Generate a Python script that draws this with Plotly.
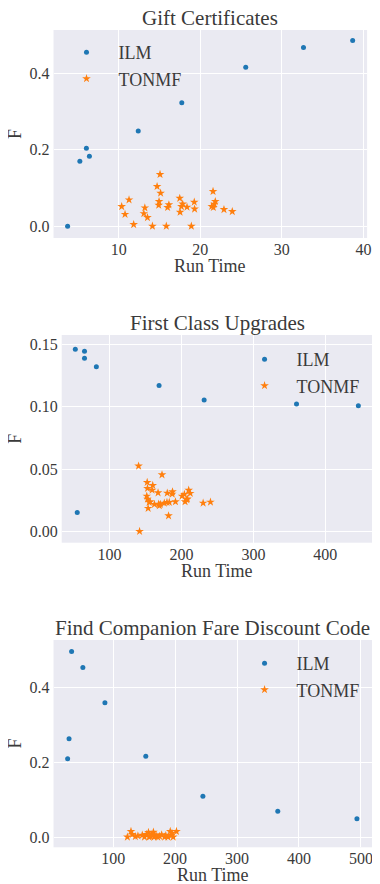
import plotly.graph_objects as go

# page body has an 8px margin; figure is sized to fit the 380x884 window
OFF = 8
W, H = 380 - OFF, 884 - OFF

# ---------------- data ----------------
gift_ilm_x = [3.73, 5.23, 6.03, 6.40, 12.39, 17.73, 25.57, 32.65, 38.68]
gift_ilm_y = [0.0, 0.170, 0.204, 0.183, 0.249, 0.323, 0.416, 0.468, 0.486]
gift_ton_x = [10.36, 10.77, 11.26, 11.83, 13.08, 13.2, 13.52, 14.13, 14.7, 14.9, 14.94, 15.06,
              15.13, 15.83, 15.99, 16.15, 17.48, 17.52, 17.68, 17.84, 18.37, 18.9, 19.26, 19.3,
              21.4, 21.56, 21.6, 21.72, 21.84, 22.9, 23.92]
gift_ton_y = [0.0516, 0.031, 0.069, 0.0044, 0.033, 0.048, 0.0227, 0.0, 0.104, 0.055, 0.0647, 0.1355,
              0.0865, 0.0, 0.049, 0.056, 0.073, 0.0367, 0.0516, 0.058, 0.0498, 0.0, 0.063, 0.045,
              0.052, 0.091, 0.049, 0.0577, 0.0647, 0.0437, 0.0385]

fcu_ilm_x = [52.3, 65.1, 65.1, 81.6, 55.0, 168.8, 231.5, 360.0, 446.0]
fcu_ilm_y = [0.146, 0.1445, 0.1388, 0.132, 0.0152, 0.1169, 0.1054, 0.1022, 0.1008]
fcu_ton_x = [140.3, 172.9, 152.3, 160.0, 152.7, 159.1, 167.4, 180.2, 187.5, 187.1, 151.7, 152.7,
             156.4, 153.6, 162.3, 169.2, 170.6, 176.1, 179.8, 183.0, 191.6, 182.0, 200.8, 204.0,
             210.0, 212.2, 205.0, 207.3, 230.1, 240.3, 141.7, 155.0, 168.2, 208.2]
fcu_ton_y = [0.0524, 0.0454, 0.0393, 0.0369, 0.0345, 0.0331, 0.0310, 0.0307, 0.0318, 0.0299, 0.0283, 0.0259,
             0.0238, 0.0185, 0.0217, 0.0206, 0.0217, 0.0227, 0.0233, 0.0233, 0.0238, 0.0125, 0.0283, 0.0297,
             0.0331, 0.0305, 0.0238, 0.0254, 0.0227, 0.0235, 0.0, 0.0233, 0.0219, 0.026]

fcf_ilm_x = [32.9, 51.1, 86.7, 28.8, 26.5, 152.7, 244.9, 365.8, 493.6]
fcf_ilm_y = [0.4975, 0.4545, 0.3598, 0.2634, 0.2098, 0.2161, 0.109, 0.0688, 0.049]
fcf_ton_x = [123.0, 128.8, 131.0, 135.8, 147.0, 150.6, 153.8, 157.0, 158.1, 162.3, 165.0, 166.1,
             169.3, 171.9, 178.3, 183.1, 188.5, 192.2, 193.8, 197.0, 202.2, 140.0, 160.0, 175.0,
             185.0, 195.0]
fcf_ton_y = [0.0, 0.015, 0.007, 0.001, 0.005, 0.0, 0.007, 0.0125, 0.0, 0.006, 0.013, 0.0,
             0.004, 0.0, 0.006, 0.0, 0.0, 0.015, 0.004, 0.0, 0.015, 0.003, 0.002, 0.002,
             0.004, 0.01]

titles = ["Gift Certificates", "First Class Upgrades", "Find Companion Fare Discount Code"]
series_names = ["ILM", "TONMF"]

# ---------------- style ----------------
BLUE = "#1f77b4"
ORANGE = "#ff7f0e"
BG = "#EAEAF2"
TXT = "#3a3a3a"
FONT = "Liberation Serif"


def px_x(p):
    return (p - OFF) / W


def px_y(p):
    return 1 - (p - OFF) / H


# plot-area pixel boxes in window coordinates (left, top, right, bottom)
boxes = [(54, 30, 371, 238), (62.3, 335, 376.7, 542.7), (54, 640, 376, 847.3)]
xranges = [[2.0, 40.45], [33.4, 466], [3.7, 518]]
yranges = [[-0.031, 0.5135], [-0.0091, 0.1575], [-0.0276, 0.528]]
xticks = [[10, 20, 30, 40], [100, 200, 300, 400], [100, 200, 300, 400, 500]]
yticks = [[0, 0.2, 0.4], [0, 0.05, 0.10, 0.15], [0, 0.2, 0.4]]
yfmt = [".1f", ".2f", ".1f"]
legend_pos = [(55, 34), (235, 341), (235, 645)]

data = [
    (gift_ilm_x, gift_ilm_y, gift_ton_x, gift_ton_y),
    (fcu_ilm_x, fcu_ilm_y, fcu_ton_x, fcu_ton_y),
    (fcf_ilm_x, fcf_ilm_y, fcf_ton_x, fcf_ton_y),
]

fig = go.Figure()
layout = dict(
    width=W, height=H,
    margin=dict(l=0, r=0, t=0, b=0),
    paper_bgcolor="white",
    plot_bgcolor=BG,
    font=dict(family=FONT, color=TXT, size=16),
    annotations=[],
)

for i, (ix, iy, tx, ty) in enumerate(data):
    n = "" if i == 0 else str(i + 1)
    lg = "legend" if i == 0 else f"legend{i + 1}"
    fig.add_trace(go.Scatter(x=ix, y=iy, mode="markers", name=series_names[0],
                             marker=dict(color=BLUE, size=5, symbol="circle"),
                             xaxis="x" + n, yaxis="y" + n, legend=lg))
    fig.add_trace(go.Scatter(x=tx, y=ty, mode="markers", name=series_names[1],
                             marker=dict(color=ORANGE, size=6.5, symbol="star"),
                             xaxis="x" + n, yaxis="y" + n, legend=lg))
    l, t, r, b = boxes[i]
    layout["xaxis" + n] = dict(
        domain=[px_x(l), px_x(r)], range=xranges[i], anchor="y" + n,
        tickvals=xticks[i], showgrid=True, gridcolor="white", gridwidth=1.2,
        zeroline=False, showline=False, ticks="", ticklabelstandoff=0,
        tickfont=dict(size=16, family=FONT, color=TXT),
    )
    layout["yaxis" + n] = dict(
        domain=[px_y(b), px_y(t)], range=yranges[i], anchor="x" + n,
        tickvals=yticks[i], tickformat=yfmt[i], showgrid=True, gridcolor="white",
        gridwidth=1.2, zeroline=False, showline=False, ticks="", ticklabelstandoff=3,
        tickfont=dict(size=16, family=FONT, color=TXT),
    )
    lx, ly = legend_pos[i]
    layout[lg] = dict(
        x=px_x(lx), y=px_y(ly), xanchor="left", yanchor="top",
        bgcolor="rgba(0,0,0,0)", borderwidth=0, itemwidth=54,
        font=dict(size=18, family=FONT, color=TXT), tracegroupgap=0,
    )
    # title
    layout["annotations"].append(dict(
        text=titles[i], x=px_x((l + r) / 2), y=px_y(t - 12), xref="paper", yref="paper",
        xanchor="center", yanchor="middle", showarrow=False,
        font=dict(size=21, family=FONT, color=TXT)))
    # x label
    layout["annotations"].append(dict(
        text="Run Time", x=px_x((l + r) / 2), y=px_y(b + 28), xref="paper", yref="paper",
        xanchor="center", yanchor="middle", showarrow=False,
        font=dict(size=18, family=FONT, color=TXT)))
    # y label
    layout["annotations"].append(dict(
        text="F", x=px_x(15), y=px_y((t + b) / 2), xref="paper", yref="paper",
        xanchor="center", yanchor="middle", showarrow=False, textangle=-90,
        font=dict(size=18, family=FONT, color=TXT)))

fig.update_layout(**layout)
fig.write_html("out.html")
